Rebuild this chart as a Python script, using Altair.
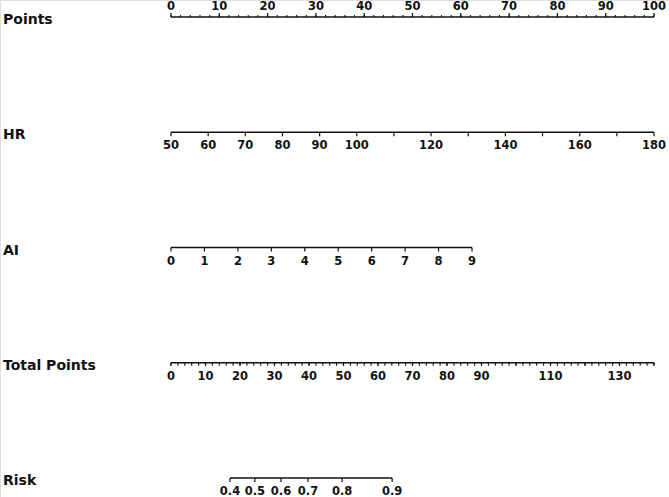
import altair as alt
import pandas as pd

# ---- data ----
row_names = ["Points", "HR", "AI", "Total Points", "Risk"]
row_index = [0, 1, 2, 3, 4]

points_labels = [0, 10, 20, 30, 40, 50, 60, 70, 80, 90, 100]
points_minor = list(range(0, 101, 2))

hr_ticks = [50, 60, 70, 80, 90, 100, 110, 120, 130, 140, 150, 160, 170, 180]
hr_labels = [50, 60, 70, 80, 90, 100, 120, 140, 160, 180]

ai_ticks = [0, 1, 2, 3, 4, 5, 6, 7, 8, 9]

total_minor = list(range(0, 141, 2))
total_major = [0, 10, 20, 30, 40, 50, 60, 70, 80, 90, 100, 110, 120, 130, 140]
total_labels = [0, 10, 20, 30, 40, 50, 60, 70, 80, 90, 110, 130]

risk_values = [0.4, 0.5, 0.6, 0.7, 0.8, 0.9]
risk_total_points = [17.1, 24.3, 31.9, 39.7, 49.6, 64.1]

# ---- styling / layout ----
FONT = "DejaVu Sans"
INK = "#111111"
XL, XR = 171, 654
AI_XR = 472

yscale = alt.Scale(domain=[0, 4], range=[17, 478])


def frame(values, row):
    d = pd.DataFrame({"v": values})
    d["row"] = row
    return d


def axis_layers(row, lo, hi, dom, rng, minor, minor_len, major, major_len,
                labels, label_text, up=False):
    xs = alt.Scale(domain=dom, range=rng)
    sign = -1 if up else 1
    line = alt.Chart(pd.DataFrame({"a": [lo], "b": [hi], "row": [row]})).mark_rule(
        color=INK, strokeWidth=1.3
    ).encode(
        x=alt.X("a:Q", scale=xs, axis=None),
        x2="b:Q",
        y=alt.Y("row:Q", scale=yscale, axis=None),
    )
    layers = [line]
    if minor:
        layers.append(
            alt.Chart(frame(minor, row)).mark_rule(
                color=INK, strokeWidth=1.1, y2Offset=sign * minor_len
            ).encode(
                x=alt.X("v:Q", scale=xs, axis=None),
                y=alt.Y("row:Q", scale=yscale, axis=None),
                y2="row:Q",
            )
        )
    layers.append(
        alt.Chart(frame(major, row)).mark_rule(
            color=INK, strokeWidth=1.2, y2Offset=sign * major_len
        ).encode(
            x=alt.X("v:Q", scale=xs, axis=None),
            y=alt.Y("row:Q", scale=yscale, axis=None),
            y2="row:Q",
        )
    )
    ld = frame(labels, row)
    ld["t"] = label_text
    layers.append(
        alt.Chart(ld).mark_text(
            font=FONT, fontSize=11.5, fontWeight="bold", color=INK,
            baseline="alphabetic", align="center", dy=(-7 if up else 17)
        ).encode(
            x=alt.X("v:Q", scale=xs, axis=None),
            y=alt.Y("row:Q", scale=yscale, axis=None),
            text="t:N",
        )
    )
    return layers


layers = []
# Points
layers += axis_layers(0, 0, 100, [0, 100], [XL, XR], points_minor, 2,
                      points_labels, 4, points_labels,
                      [str(v) for v in points_labels], up=True)
# HR
layers += axis_layers(1, 50, 180, [50, 180], [XL, XR], None, 0,
                      hr_ticks, 4, hr_labels, [str(v) for v in hr_labels])
# AI
layers += axis_layers(2, 0, 9, [0, 9], [XL, AI_XR], None, 0,
                      ai_ticks, 4, ai_ticks, [str(v) for v in ai_ticks])
# Total points
layers += axis_layers(3, 0, 140, [0, 140], [XL, XR], total_minor, 3,
                      total_major, 3, total_labels,
                      [str(v) for v in total_labels])
# Risk
layers += axis_layers(4, risk_total_points[0], risk_total_points[-1], [0, 140],
                      [XL, XR], None, 0, risk_total_points, 4,
                      risk_total_points, [str(v) for v in risk_values])

# row titles
titles = alt.Chart(pd.DataFrame({"row": row_index, "name": row_names})).mark_text(
    font=FONT, fontSize=14, fontWeight="bold", color=INK,
    align="left", baseline="middle", dy=3
).encode(
    x=alt.value(3),
    y=alt.Y("row:Q", scale=yscale, axis=None),
    text="name:N",
)
layers.append(titles)

chart = alt.layer(*layers).resolve_scale(x="independent").properties(
    width=669, height=497, padding=0, autosize=alt.AutoSizeParams(type="none")
).configure_view(stroke=None).configure(background="white")

chart.save("out.html", embed_options={"renderer": "svg", "actions": False})
